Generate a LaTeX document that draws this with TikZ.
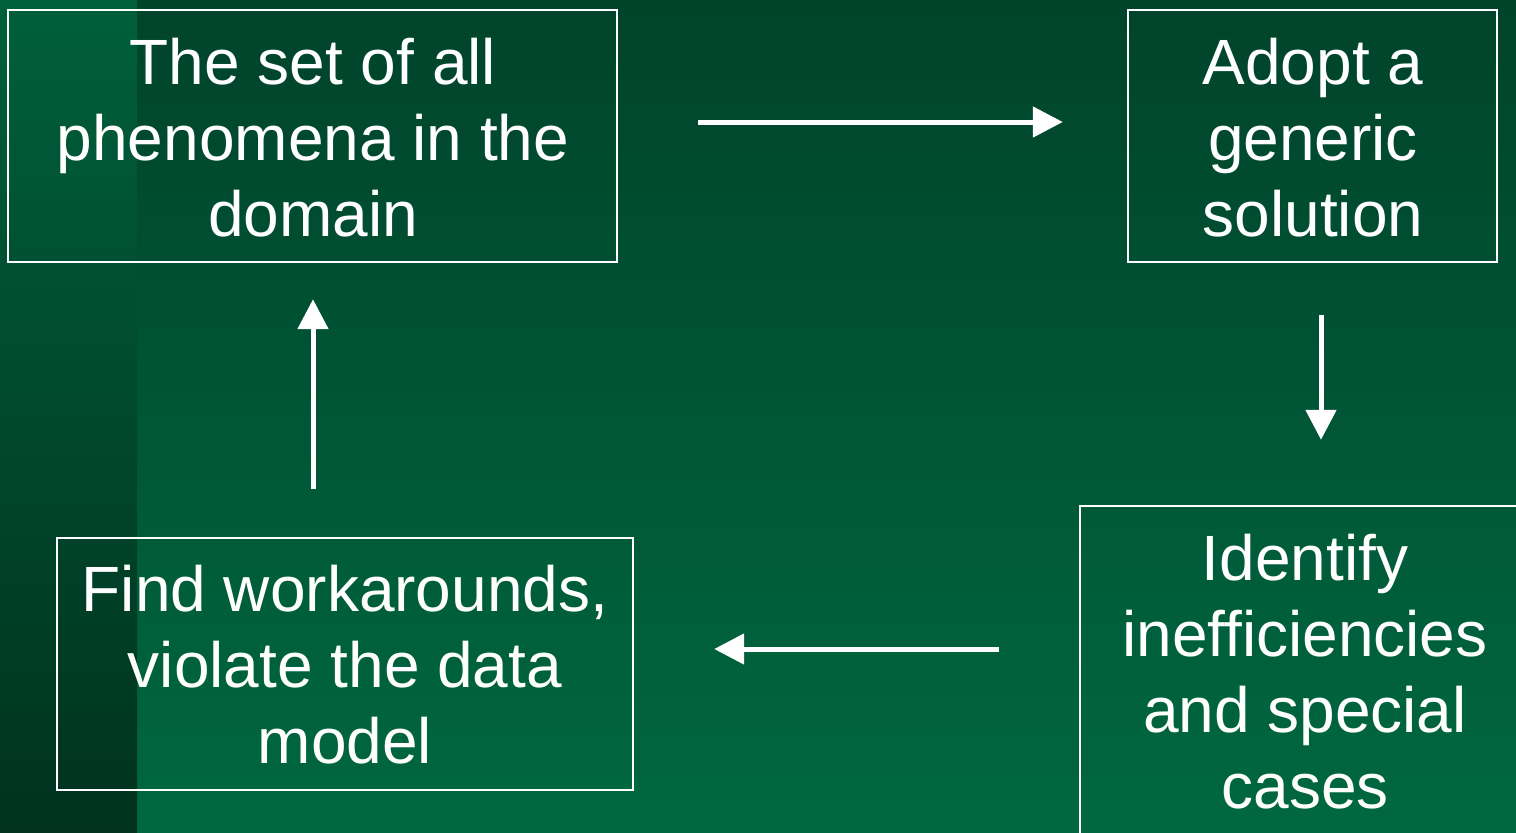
\documentclass[tikz,border=0pt]{standalone}
\usepackage{fontspec}
\setmainfont{Liberation Sans}
\usetikzlibrary{arrows.meta}
\definecolor{bgtop}{HTML}{00432B}
\definecolor{bgbot}{HTML}{006841}
\definecolor{striptop}{HTML}{005F3C}
\definecolor{stripbot}{HTML}{00321F}
\tikzset{
  stepbox/.style={draw=white, line width=1.2pt, rectangle, inner sep=0pt},
  steptext/.style={text=white, align=center, inner sep=0pt,
    font=\fontsize{32}{38}\selectfont},
  flow/.style={draw=white, line width=2.5pt,
    -{Triangle[length=15pt,width=15pt]}}
}
\begin{document}
\begin{tikzpicture}[x=0.5pt, y=-0.5pt]
  % background panels
  \useasboundingbox (0,0) rectangle (1516,832);
  \shade[top color=bgtop, bottom color=bgbot] (137,0) rectangle (1516,832);
  \shade[top color=striptop, bottom color=stripbot] (0,0) rectangle (137,832);

  % boxes
  \node[stepbox, minimum width=304.5pt, minimum height=126pt] (b1) at (312.5,136) {};
  \node[stepbox, minimum width=184.5pt, minimum height=126pt] (b2) at (1312.5,136) {};
  \node[stepbox, minimum width=230pt, minimum height=180pt] (b3) at (1310,686) {};
  \node[stepbox, minimum width=288pt, minimum height=126pt] (b4) at (345,664) {};

  % labels (anchored on the baseline of their last line)
  \node[steptext, anchor=base] (t1) at (313,236) {The set of all\\phenomena in the\\domain};
  \node[steptext, anchor=base] (t2) at (1313,236) {Adopt a\\generic\\solution};
  \node[steptext, anchor=base] (t3) at (1305,808) {Identify\\inefficiencies\\and special\\cases};
  \node[steptext, anchor=base] (t4) at (345,763) {Find workarounds,\\violate the data\\model};

  % cycle arrows
  \draw[flow] ([shift={(80,-14)}]b1.east) -- ([shift={(-64,-14)}]b2.west);
  \draw[flow] ([shift={(8.5,52)}]b2.south) -- ([shift={(11,-65)}]b3.north);
  \draw[flow] ([shift={(-80,-37)}]b3.west) -- ([shift={(80,-15)}]b4.east);
  \draw[flow] ([shift={(-32,-48)}]b4.north) -- ([shift={(0.5,36)}]b1.south);
\end{tikzpicture}
\end{document}
